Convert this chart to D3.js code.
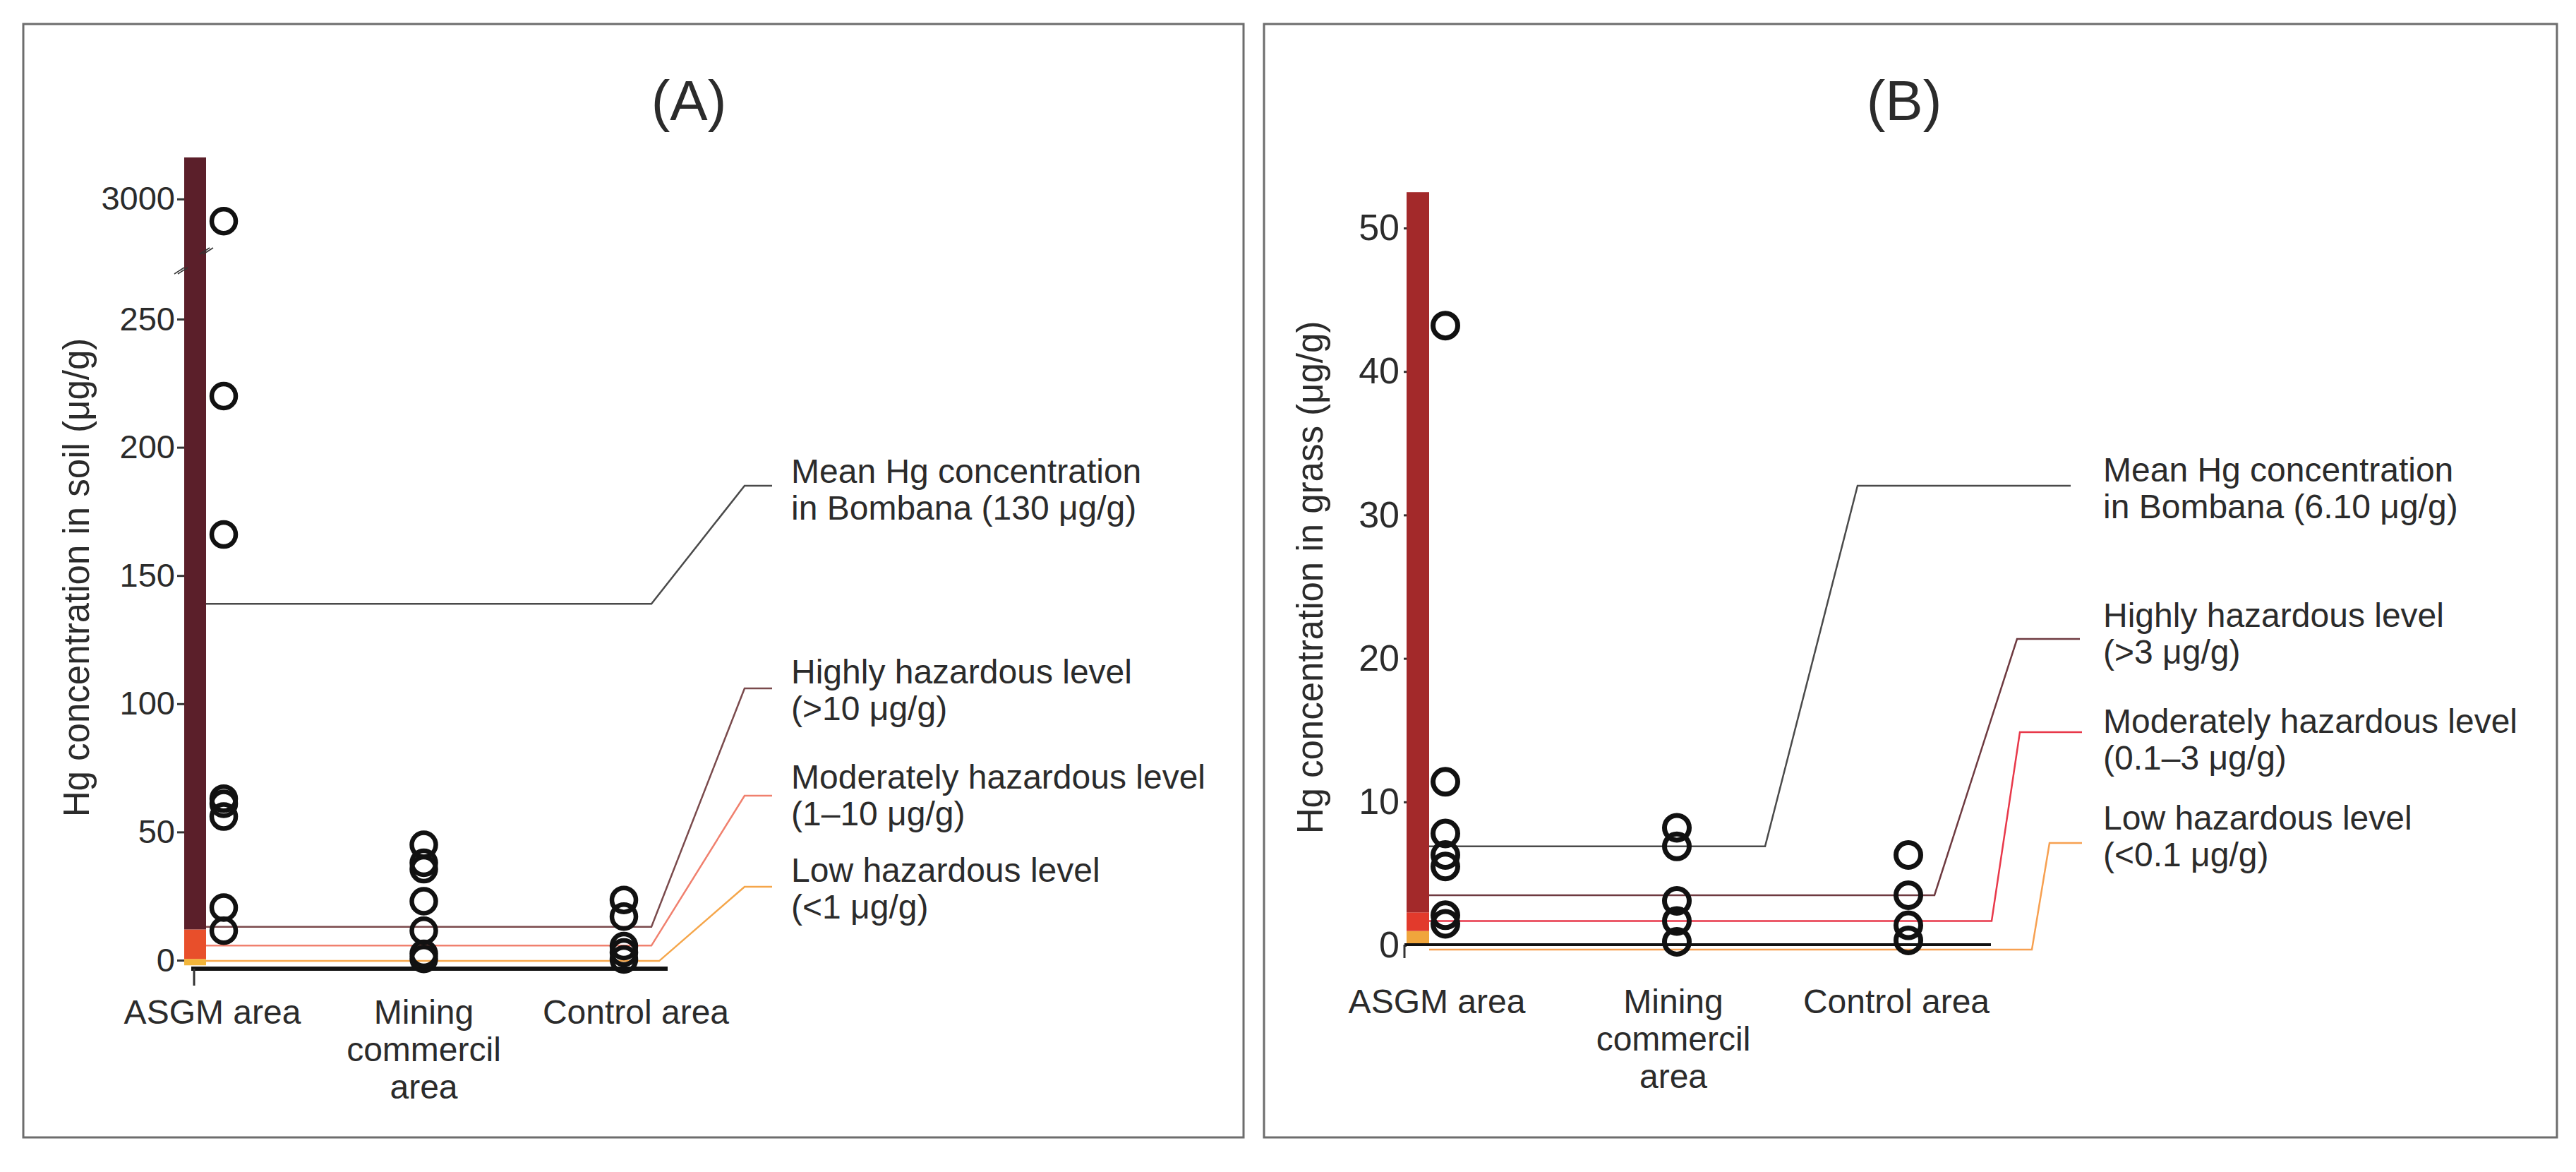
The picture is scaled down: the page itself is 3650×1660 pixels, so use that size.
<!DOCTYPE html>
<html>
<head>
<meta charset="utf-8">
<script src="https://cdn.jsdelivr.net/npm/d3@7"></script>
<style>
  body { margin: 0; background: #fff; }
  text { font-family: 'Liberation Sans', Arial, sans-serif; fill: #2b2b2b; }
</style>
</head>
<body>
<div id="main"></div>
<script>
// ---- data ----
const categories = ['ASGM area', 'Mining commercil area', 'Control area'];
const categoryLines = [['ASGM area'], ['Mining', 'commercil', 'area'], ['Control area']];

// soil (A), µg/g
const soilASGM    = [2920, 220, 166, 63, 61, 56, 20.5, 11.5];
const soilMining  = [45, 38, 35.5, 23, 11.5, 2.5, 0.5];
const soilControl = [23.5, 17, 5.5, 3, 0.3];
const soilTicksLow  = [0, 50, 100, 150, 200, 250];
const soilTicksHigh = [3000];

// grass (B), µg/g
const grassASGM    = [43.2, 11.4, 7.8, 6.3, 5.5, 2.1, 1.5];
const grassMining  = [8.2, 6.9, 3.1, 1.7, 0.25];
const grassControl = [6.3, 3.5, 1.4, 0.35];
const grassTicks = [0, 10, 20, 30, 40, 50];

// reference levels as drawn: mean, highly, moderately, low
const soilLevels  = [139, 13, 5.7, -0.3];
const grassLevels = [6.9, 3.5, 1.7, -0.3];
const soilLevelText = [
    ['Mean Hg concentration', 'in Bombana (130 μg/g)'],
    ['Highly hazardous level', '(>10 μg/g)'],
    ['Moderately hazardous level', '(1–10 μg/g)'],
    ['Low hazardous level', '(<1 μg/g)']
];
const grassLevelText = [
    ['Mean Hg concentration', 'in Bombana (6.10 μg/g)'],
    ['Highly hazardous level', '(>3 μg/g)'],
    ['Moderately hazardous level', '(0.1–3 μg/g)'],
    ['Low hazardous level', '(<0.1 μg/g)']
];

// hazard bar segments [from, to]
const soilBar  = [[-2, 0.5], [0.5, 12], [12, 3150]];
const grassBar = [[0, 1], [1, 2.3], [2.3, 52.5]];

// ---- layout ----
const width = 3650, height = 1660;
const svg = d3.select('#main').append('svg').attr('width', width).attr('height', height);

const levelColorsA = ['#4a4a4a', '#7a4a4c', '#f0806e', '#f5a64a'];
const levelColorsB = ['#4a4a4a', '#6e3a40', '#e8384a', '#f7a050'];

const panels = [
    {
        title: '(A)', titleX: 976,
        frame: [33, 34, 1762, 1611],
        yTitle: 'Hg concentration in soil (μg/g)', yTitleX: 126,
        barX: 261, barW: 31, barColors: ['#f2b53a', '#e84f2b', '#5b1f2a'], bar: soilBar,
        series: [soilASGM, soilMining, soilControl],
        xRange: [317, 884], labelDx: [-16, 0, 17],
        labelBaseline: 1450, lineStep: 53,
        r: 17, sw: 6.5,
        axisY: 1372, axisX: [271, 946], axisW: 6, tickX: 275, tickLen: 24,
        levels: soilLevels, levelText: soilLevelText, levelColors: levelColorsA,
        callout: [
            { x1: 923, x2: 1055, yL: 688, x3: 1094, base: 684 },
            { x1: 923, x2: 1055, yL: 975, x3: 1094, base: 968 },
            { x1: 923, x2: 1055, yL: 1127, x3: 1094, base: 1117 },
            { x1: 934, x2: 1055, yL: 1256, x3: 1094, base: 1249 }
        ],
        textX: 1121
    },
    {
        title: '(B)', titleX: 2698,
        frame: [1791, 34, 3623, 1611],
        yTitle: 'Hg concentration in grass (μg/g)', yTitleX: 1874,
        barX: 1993, barW: 32, barColors: ['#f0a53c', '#e23a2c', '#a3292a'], bar: grassBar,
        series: [grassASGM, grassMining, grassControl],
        xRange: [2048, 2704], labelDx: [-12, -5, -17],
        labelBaseline: 1435, lineStep: 53,
        r: 17.5, sw: 7,
        axisY: 1338, axisX: [1990, 2821], axisW: 4, tickX: 1990, tickLen: 19,
        levels: grassLevels, levelText: grassLevelText, levelColors: levelColorsB,
        callout: [
            { x1: 2501, x2: 2632, yL: 688, x3: 2934, base: 682 },
            { x1: 2741, x2: 2858, yL: 905, x3: 2947, base: 888 },
            { x1: 2822, x2: 2862, yL: 1037, x3: 2950, base: 1038 },
            { x1: 2879, x2: 2904, yL: 1194, x3: 2950, base: 1175 }
        ],
        textX: 2980
    }
];

// y scales: soil has a broken axis
const yLowA  = d3.scaleLinear().domain([0, 250]).range([1360, 452]);
const yHighA = d3.scaleLinear().domain([2750, 3150]).range([380, 223]);
const yA = v => v < 1000 ? yLowA(v) : yHighA(v);
const yB = d3.scaleLinear().domain([0, 50]).range([1339, 323]);
panels[0].y = yA;
panels[1].y = yB;

function drawPanel(p, idx) {
    const g = svg.append('g');

    g.append('rect')
        .attr('x', p.frame[0]).attr('y', p.frame[1])
        .attr('width', p.frame[2] - p.frame[0]).attr('height', p.frame[3] - p.frame[1])
        .attr('fill', 'none').attr('stroke', '#6d6d6d').attr('stroke-width', 3);

    g.append('text')
        .attr('x', p.titleX).attr('y', 170)
        .attr('text-anchor', 'middle')
        .style('font-size', '80px')
        .text(p.title);

    // y axis ticks
    if (idx === 0) {
        [[yLowA, soilTicksLow], [yHighA, soilTicksHigh]].forEach(([sc, tv]) => {
            g.append('g')
                .attr('class', 'yaxis')
                .attr('transform', `translate(${p.barX},0)`)
                .call(d3.axisLeft(sc).tickValues(tv).tickFormat(d3.format('d')).tickSize(10).tickPadding(3));
        });
    } else {
        g.append('g')
            .attr('class', 'yaxis')
            .attr('transform', `translate(${p.barX},0)`)
            .call(d3.axisLeft(yB).tickValues(grassTicks).tickFormat(d3.format('d')).tickSize(4).tickPadding(6));
    }
    g.selectAll('.yaxis .domain').remove();
    g.selectAll('.yaxis line').attr('stroke', '#333').attr('stroke-width', 3);
    g.selectAll('.yaxis text')
        .style('font-size', idx === 0 ? '47px' : '52px')
        .style('font-family', "'Liberation Sans', Arial, sans-serif")
        .attr('fill', '#2b2b2b');

    // y title
    g.append('text')
        .attr('transform', `translate(${p.yTitleX},818) rotate(-90)`)
        .attr('text-anchor', 'middle')
        .style('font-size', '51px')
        .text(p.yTitle);

    // hazard bar
    g.selectAll('.seg')
        .data(p.bar)
        .enter()
        .append('rect')
            .attr('x', p.barX)
            .attr('width', p.barW)
            .attr('y', d => p.y(d[1]))
            .attr('height', d => p.y(d[0]) - p.y(d[1]))
            .attr('fill', (d, i) => p.barColors[i]);

    // axis break marks (soil only)
    if (idx === 0) {
        const brk = [[247, 388], [283, 360]];
        brk.forEach(([bx, by]) => {
            [0, 5].forEach(o => {
                g.append('line')
                    .attr('x1', bx + o).attr('y1', by)
                    .attr('x2', bx + o + 14).attr('y2', by - 9)
                    .attr('stroke', '#333').attr('stroke-width', 1.5);
            });
        });
    }

    // reference level callouts
    const line = d3.line();
    p.levels.forEach((v, i) => {
        const c = p.callout[i];
        const yv = p.y(v);
        g.append('path')
            .attr('d', line([[p.barX + p.barW, yv], [c.x1, yv], [c.x2, c.yL], [c.x3, c.yL]]))
            .attr('fill', 'none')
            .attr('stroke', p.levelColors[i])
            .attr('stroke-width', 2.5);
        const t = g.append('text')
            .attr('x', p.textX).attr('y', c.base)
            .style('font-size', '48px');
        p.levelText[i].forEach((s, j) => {
            t.append('tspan').attr('x', p.textX).attr('dy', j === 0 ? 0 : 52).text(s);
        });
    });

    // black x axis line + small tick
    g.append('line')
        .attr('x1', p.axisX[0]).attr('x2', p.axisX[1])
        .attr('y1', p.axisY).attr('y2', p.axisY)
        .attr('stroke', '#111').attr('stroke-width', p.axisW);
    g.append('line')
        .attr('x1', p.tickX).attr('x2', p.tickX)
        .attr('y1', p.axisY).attr('y2', p.axisY + p.tickLen)
        .attr('stroke', '#333').attr('stroke-width', 3);

    // points
    const x = d3.scalePoint().domain(categories).range(p.xRange);
    const pts = [];
    p.series.forEach((arr, i) => arr.forEach(v => pts.push({ cat: categories[i], v })));
    g.selectAll('.pt')
        .data(pts)
        .enter()
        .append('circle')
            .attr('class', 'pt')
            .attr('cx', d => x(d.cat))
            .attr('cy', d => p.y(d.v))
            .attr('r', p.r)
            .attr('fill', 'none')
            .attr('stroke', '#111')
            .attr('stroke-width', p.sw);

    // category labels
    categories.forEach((cat, i) => {
        const t = g.append('text')
            .attr('text-anchor', 'middle')
            .attr('y', p.labelBaseline)
            .style('font-size', '48px');
        categoryLines[i].forEach((s, j) => {
            t.append('tspan')
                .attr('x', x(cat) + p.labelDx[i])
                .attr('dy', j === 0 ? 0 : p.lineStep)
                .text(s);
        });
    });
}

panels.forEach(drawPanel);
</script>
</body>
</html>
